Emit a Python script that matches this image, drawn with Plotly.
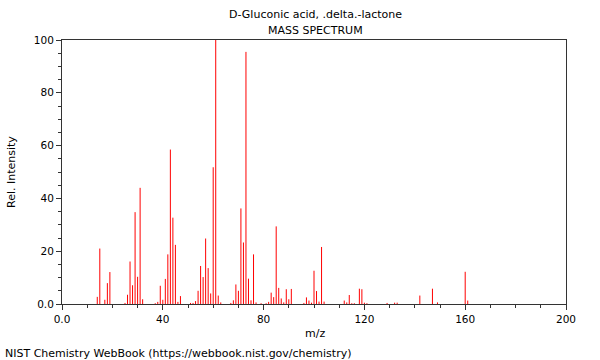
import plotly.graph_objects as go

mz = [14, 15, 17, 18, 19, 25, 26, 27, 28, 29, 30, 31, 32, 37, 38, 39, 40, 41, 42, 43,
      44, 45, 46, 47, 51, 52, 53, 54, 55, 56, 57, 58, 59, 60, 61, 62, 63, 67, 68, 69,
      70, 71, 72, 73, 74, 75, 76, 77, 79, 81, 82, 83, 84, 85, 86, 87, 88, 89, 90, 91,
      96, 97, 98, 99, 100, 101, 102, 103, 104, 112, 113, 114, 115, 116, 118, 119, 120,
      121, 129, 132, 133, 142, 147, 149, 160, 161]
intensity = [2.7, 21.0, 1.6, 7.9, 12.1, 0.4, 3.5, 16.1, 7.1, 34.8, 10.3, 44.0, 1.8, 0.3, 0.8,
             6.9, 1.6, 9.5, 18.8, 58.5, 32.7, 22.4, 0.8, 3.0, 0.4, 0.4, 1.1, 5.0, 14.4, 10.2,
             24.8, 13.6, 4.0, 51.8, 100.0, 3.2, 0.6, 0.4, 1.4, 7.4, 5.0, 36.2, 23.3, 95.5,
             9.6, 1.4, 18.8, 0.6, 0.3, 0.3, 0.8, 4.3, 2.6, 29.4, 6.1, 2.1, 0.6, 5.6, 1.8,
             5.7, 0.4, 2.5, 1.3, 0.5, 12.6, 4.9, 0.9, 21.6, 0.9, 1.3, 0.6, 3.4, 0.3, 0.3,
             5.8, 5.6, 0.5, 0.3, 0.4, 0.5, 0.5, 3.2, 5.8, 0.6, 12.2, 1.3]

x_ticks = [0, 40, 80, 120, 160, 200]
x_ticktext = ["0.0", "40", "80", "120", "160", "200"]
y_ticks = [0, 20, 40, 60, 80, 100]
y_ticktext = ["0.0", "20", "40", "60", "80", "100"]

title_main = "D-Gluconic acid, .delta.-lactone"
title_sub = "MASS SPECTRUM"
footer = "NIST Chemistry WebBook (https://webbook.nist.gov/chemistry)"

xs, ys = [], []
for m, v in zip(mz, intensity):
    xs += [m, m, None]
    ys += [0, v, None]

FONT = "DejaVu Sans"

fig = go.Figure()
fig.add_trace(go.Scatter(x=xs, y=ys, mode="lines",
                         line=dict(color="#ff0000", width=1),
                         hoverinfo="skip", showlegend=False))

axis_common = dict(showline=True, linecolor="#333333", linewidth=1, mirror=True,
                   ticks="outside", ticklen=5, tickcolor="#333333", showgrid=False,
                   zeroline=False, tickfont=dict(family=FONT, size=10.5, color="black"))

fig.update_xaxes(range=[0, 200], tickmode="array", tickvals=x_ticks, ticktext=x_ticktext,
                 minor=dict(dtick=10, ticks="outside", ticklen=3, tickcolor="#333333"),
                 **axis_common)
fig.update_yaxes(range=[0, 100], tickmode="array", tickvals=y_ticks, ticktext=y_ticktext,
                 minor=dict(dtick=5, ticks="outside", ticklen=3, tickcolor="#333333"),
                 **axis_common)

# page pixel -> paper coordinates (plot area spans page x 62..566, y 40..304)
def px_x(p):
    return (p - 62) / 504.0

def px_y(p):
    return (304 - p) / 264.0

ann_font = dict(family=FONT, size=11, color="black")
annotations = [
    dict(text=title_main, x=px_x(315), y=px_y(14), xanchor="center", yanchor="middle"),
    dict(text=title_sub, x=px_x(315), y=px_y(30), xanchor="center", yanchor="middle"),
    dict(text="m/z", x=px_x(315), y=px_y(333), xanchor="center", yanchor="middle"),
    dict(text="Rel. Intensity", x=px_x(11), y=px_y(172), xanchor="center",
         yanchor="middle", textangle=-90),
    dict(text=footer, x=px_x(3), y=px_y(353), xanchor="left", yanchor="middle"),
]
for a in annotations:
    a.update(xref="paper", yref="paper", showarrow=False, font=ann_font)

fig.update_layout(width=600, height=360,
                  margin=dict(l=62, r=34, t=40, b=56),
                  paper_bgcolor="white", plot_bgcolor="white",
                  annotations=annotations,
                  font=dict(family=FONT, size=10.5, color="black"))

fig.write_html("out.html",
               config={"displayModeBar": False, "staticPlot": True},
               post_script="document.body.style.margin='0';"
                           "document.body.style.overflow='hidden';")
